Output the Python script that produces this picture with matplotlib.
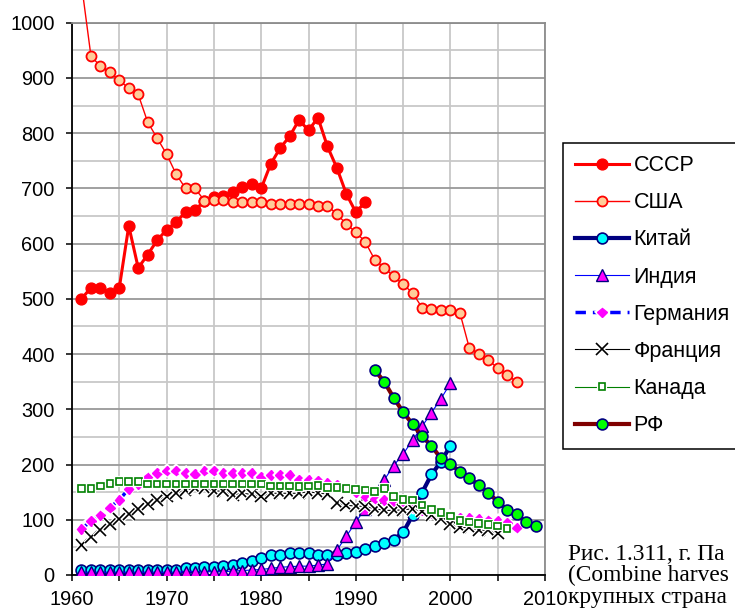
import matplotlib
matplotlib.use("Agg")
import matplotlib.pyplot as plt
import matplotlib.patheffects as pe
from matplotlib.ticker import MultipleLocator

plt.rcParams['font.family'] = ['Liberation Sans', 'DejaVu Sans']

# data
years_ussr = list(range(1961, 1992))
ussr = [500, 520, 520, 511, 520, 632, 556, 580, 606, 625,
        639, 657, 660, 678, 684, 686, 693, 702, 708, 700,
        744, 773, 794, 824, 805, 828, 776, 737, 690, 657,
        675]

years_usa = list(range(1961, 2008))
usa = [1070, 940, 921, 910, 896, 881, 870, 820, 791, 762,
       726, 700, 700, 678, 679, 679, 675, 675, 675, 675,
       672, 672, 672, 672, 671, 668, 668, 654, 635, 621,
       603, 571, 556, 541, 526, 511, 484, 482, 479, 480,
       475, 411, 401, 389, 375, 362, 350]

years_china = list(range(1961, 2001))
china = [9, 9, 9, 9, 9, 9, 9, 9, 9, 9,
         9, 12, 13, 14, 15, 16, 19, 22, 26, 30,
         36, 36, 39, 40, 40, 36, 36, 37, 39, 42,
         47, 53, 58, 64, 77, 108, 149, 182, 205, 234]

years_india = list(range(1961, 2001))
india = [5, 5, 5, 5, 5, 5, 5, 5, 5, 5,
         5, 6, 6, 6, 6, 6, 7, 8, 9, 10,
         12, 14, 15, 16, 16, 18, 20, 45, 70, 96,
         120, 146, 172, 198, 219, 244, 269, 294, 319, 347]

years_germany = list(range(1961, 2008))
germany = [83, 98, 108, 122, 136, 156, 165, 177, 185, 189,
           189, 185, 183, 189, 189, 185, 185, 185, 185, 178,
           181, 181, 181, 172, 172, 170, 167, 163, 158, 150,
           142, 138, 136, 132, 128, 122, 117, 112, 108, 105,
           104, 103, 102, 99, 98, 95, 86]

years_france = list(range(1961, 2006))
france = [54, 69, 81, 93, 102, 111, 119, 128, 136, 142,
          148, 154, 157, 157, 152, 152, 145, 148, 146, 142,
          148, 148, 148, 148, 151, 148, 147, 130, 126, 125,
          124, 120, 117, 117, 118, 120, 115, 108, 101, 93,
          86, 86, 81, 81, 75]

years_canada = list(range(1961, 2007))
canada = [157, 157, 161, 166, 169, 169, 169, 165, 165, 165,
          165, 165, 165, 165, 165, 165, 165, 165, 165, 165,
          161, 161, 161, 160, 161, 162, 158, 158, 157, 155,
          154, 151, 157, 142, 137, 136, 127, 118, 113, 107,
          99, 96, 93, 92, 89, 84]

years_rf = list(range(1992, 2010))
rf = [371, 350, 321, 295, 273, 251, 234, 211, 201, 187,
      175, 163, 149, 133, 118, 110, 96, 89]

# caption as far as it is visible at the right edge
caption = ['Рис. 1.311, г. Па', '(Combine harves', 'крупных страна']

fig = plt.figure(figsize=(7.35, 6.12), dpi=100)
ax = fig.add_axes([72 / 735, 37 / 612, 473 / 735, 552.3 / 612])

halo = [pe.withStroke(linewidth=3, foreground='white')]

ax.plot(years_ussr, ussr, color='#FF0000', lw=2.2, marker='o', ms=7.8,
        mfc='#FF0000', mec='#FF0000', label='СССР', zorder=3)
ax.plot(years_usa, usa, color='#FF0000', lw=1.0, marker='o', ms=7.2,
        mfc='#FFCC99', mec='#FF0000', mew=1.3, label='США', zorder=4,
        clip_on=False)
ax.plot(years_china, china, color='#000080', lw=3, marker='o', ms=7.8,
        mfc='#00FFFF', mec='#000080', mew=1.2, label='Китай', zorder=5)
ax.plot(years_india, india, color='#0000FF', lw=0.8, marker='^', ms=8.5,
        mfc='#FF00FF', mec='#000080', mew=1.0, label='Индия', zorder=6)
ax.plot(years_germany, germany, color='#0000FF', lw=2.5, ls=(0, (3, 2)),
        marker='D', ms=4.8, mfc='#FF00FF', mec='#FF00FF',
        label='Германия', zorder=7, path_effects=halo)
ax.plot(years_france, france, color='black', lw=0.8, marker='x', ms=8.5,
        mew=1.2, label='Франция', zorder=8, path_effects=halo)
ax.plot(years_canada, canada, color='#008000', lw=0.8, marker='s', ms=4.8,
        mfc='white', mec='#008000', mew=1.2, label='Канада', zorder=9,
        path_effects=halo)
ax.plot(years_rf, rf, color='#800000', lw=3, marker='o', ms=7.8,
        mfc='#00FF00', mec='#000080', mew=1.2, label='РФ', zorder=10)

ax.set_xlim(1960, 2010)
ax.set_ylim(0, 1000)

ax.xaxis.set_major_locator(MultipleLocator(10))
ax.xaxis.set_minor_locator(MultipleLocator(5))
ax.yaxis.set_major_locator(MultipleLocator(100))
ax.yaxis.set_minor_locator(MultipleLocator(50))

ax.grid(True, which='major', axis='y', color='#999999', lw=1.3, zorder=0)
ax.grid(True, which='minor', axis='y', color='#C8C8C8', lw=1.3, zorder=0)
ax.grid(True, which='both', axis='x', color='#C8C8C8', lw=1.3, zorder=0)
ax.set_axisbelow(True)

ax.tick_params(axis='both', which='major', direction='out', length=4.5,
               width=1.1, color='black', labelsize=14.4)
ax.tick_params(axis='x', which='minor', direction='out', length=4.5,
               width=1.1, color='black')
ax.tick_params(axis='y', which='minor', length=0)
ax.tick_params(axis='y', pad=8)
ax.tick_params(axis='x', pad=6)

for s in ['left', 'bottom']:
    ax.spines[s].set_color('black')
    ax.spines[s].set_linewidth(1.3)
for s in ['top', 'right']:
    ax.spines[s].set_color('#8C8C8C')
    ax.spines[s].set_linewidth(1.3)

leg = fig.legend(loc='upper left', bbox_to_anchor=(562.7 / 735, 1 - 142.7 / 612),
                 bbox_transform=fig.transFigure, borderaxespad=0,
                 prop={'size': 15.5}, frameon=True, fancybox=False,
                 framealpha=1, edgecolor='black', borderpad=0.58,
                 labelspacing=0.75, handlelength=2.5, handletextpad=0.22)
leg.get_frame().set_linewidth(1.1)

# one text block for the caption lines
fig.text(568 / 735, 1 - 544 / 612, '\n'.join(caption),
         family=['Liberation Serif', 'DejaVu Serif'], fontsize=16.8,
         va='top', ha='left', linespacing=1.02)

fig.savefig('out.png', dpi=100)
